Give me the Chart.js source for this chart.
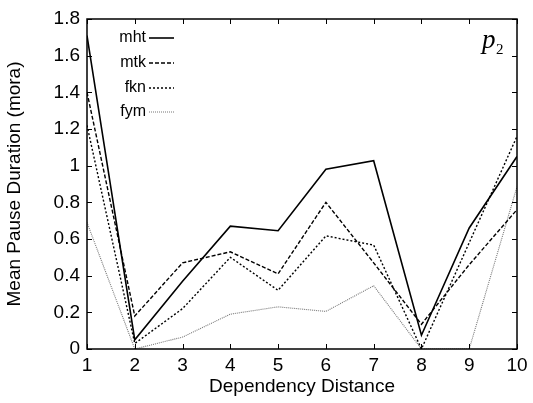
<!DOCTYPE html>
<html><head><meta charset="utf-8">
<script src="https://cdn.jsdelivr.net/npm/chart.js@4/dist/chart.umd.min.js"></script>
<style>html,body{margin:0;padding:0;background:#fff}#wrap{width:533px;height:403px}</style>
</head><body><div id="wrap"><canvas id="c" width="533" height="403"></canvas></div>
<script>
const distances = [1,2,3,4,5,6,7,8,9,10];
const mht = [1.71,0.05,0.37,0.67,0.645,0.98,1.027,0.075,0.66,1.05];
const mtk = [1.40,0.18,0.47,0.53,0.41,0.80,0.47,0.135,0.46,0.76];
const fkn = [1.22,0.03,0.22,0.50,0.32,0.617,0.567,0.0,0.58,1.16];
const fym = [0.69,0.0,0.065,0.19,0.23,0.205,0.345,0.0,0.0,0.885];
const seriesNames = ['mht','mtk','fkn','fym'];
const yTicks = [0,0.2,0.4,0.6,0.8,1,1.2,1.4,1.6,1.8];
const yTickLabels = ['0','0.2','0.4','0.6','0.8','1','1.2','1.4','1.6','1.8'];

const styles = [
  {color:'#000', width:1.6, dash:[]},
  {color:'#000', width:1.4, dash:[4,2]},
  {color:'#000', width:1.4, dash:[2,2]},
  {color:'#777', width:1.1, dash:[1,1]}
];
const seriesVals = [mht,mtk,fkn,fym];

Chart.defaults.color = '#000';
Chart.defaults.font.family = '"Liberation Sans", Arial, sans-serif';

const frameTicks = {
  id:'frameTicks',
  afterDraw(chart){
    const {ctx, chartArea:a, scales:{x,y}} = chart;
    ctx.save();
    ctx.strokeStyle='#000'; ctx.lineWidth=1.5; ctx.setLineDash([]);
    ctx.strokeRect(a.left,a.top,a.right-a.left,a.bottom-a.top);
    ctx.lineWidth=1;
    const L=5;
    distances.forEach(d=>{
      const px = Math.round(x.getPixelForValue(d))+0.5;
      ctx.beginPath();
      ctx.moveTo(px,a.bottom); ctx.lineTo(px,a.bottom-L);
      ctx.moveTo(px,a.top); ctx.lineTo(px,a.top+L);
      ctx.stroke();
    });
    yTicks.forEach(v=>{
      const py = Math.round(y.getPixelForValue(v))+0.5;
      ctx.beginPath();
      ctx.moveTo(a.left,py); ctx.lineTo(a.left+L,py);
      ctx.moveTo(a.right,py); ctx.lineTo(a.right-L,py);
      ctx.stroke();
    });
    // legend
    ctx.font = '16px "Liberation Sans", Arial, sans-serif';
    ctx.textAlign='right'; ctx.textBaseline='middle'; ctx.fillStyle='#000';
    const rowY=[38,63,88,112];
    seriesNames.forEach((n,i)=>{
      ctx.fillText(n,146,rowY[i]);
      const s=styles[i];
      ctx.strokeStyle=s.color; ctx.lineWidth=s.width; ctx.setLineDash(s.dash);
      ctx.beginPath(); ctx.moveTo(149,rowY[i]); ctx.lineTo(174,rowY[i]); ctx.stroke();
    });
    ctx.setLineDash([]);
    // p2 label
    ctx.textAlign='left'; ctx.textBaseline='alphabetic';
    ctx.font = 'italic 27px "Liberation Serif", "Times New Roman", serif';
    ctx.fillText('p',482,48);
    ctx.font = '15px "Liberation Serif", "Times New Roman", serif';
    ctx.fillText('2',496,54);
    ctx.restore();
  }
};

new Chart(document.getElementById('c'),{
  type:'line',
  data:{
    datasets: seriesNames.map((n,i)=>({
      label:n,
      data: distances.map((d,j)=>({x:d,y:seriesVals[i][j]})),
      borderColor:styles[i].color,
      borderWidth:styles[i].width,
      borderDash:styles[i].dash,
      pointRadius:0,
      tension:0,
      fill:false
    }))
  },
  options:{
    responsive:false,
    animation:false,
    layout:{padding:{top:19,right:16,left:0,bottom:0}},
    plugins:{legend:{display:false},tooltip:{enabled:false}},
    scales:{
      x:{
        type:'linear', min:1, max:10,
        afterBuildTicks(s){ s.ticks = distances.map(v=>({value:v})); },
        grid:{display:false, drawTicks:false},
        border:{display:false},
        ticks:{font:{size:19}, padding:5, maxRotation:0, autoSkip:false},
        title:{display:true, text:'Dependency Distance', font:{size:19}, padding:{top:0,bottom:5}},
        afterFit(s){ s.height = 54; }
      },
      y:{
        min:0, max:1.8,
        afterBuildTicks(s){ s.ticks = yTicks.map(v=>({value:v})); },
        grid:{display:false, drawTicks:false},
        border:{display:false},
        ticks:{font:{size:19}, padding:7, callback:(v,i)=>yTickLabels[i]},
        title:{display:true, text:'Mean Pause Duration (mora)', font:{size:19}, padding:{top:3,bottom:0}},
        afterFit(s){ s.width = 87; }
      }
    }
  },
  plugins:[frameTicks]
});
</script></body></html>
